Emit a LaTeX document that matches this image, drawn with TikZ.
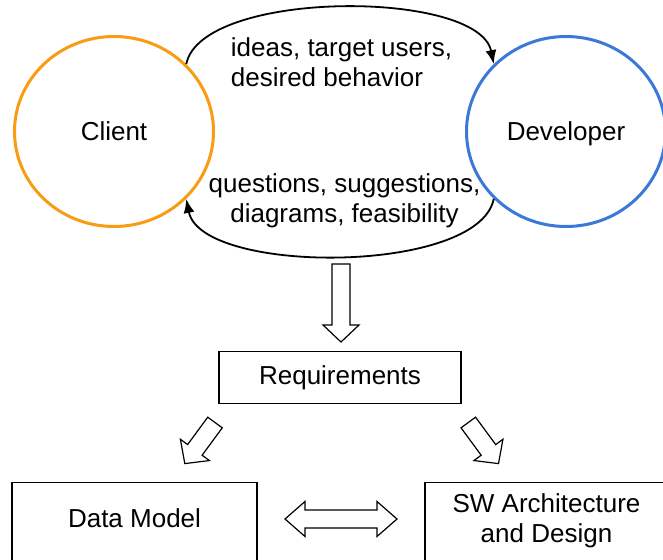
\documentclass[tikz,border=0pt]{standalone}
\usepackage{fontspec}
\setmainfont{Liberation Sans}
\usetikzlibrary{arrows.meta,shapes.geometric}

\definecolor{clientorange}{RGB}{248,156,20}
\definecolor{devblue}{RGB}{60,120,216}

\tikzset{
  party/.style={ellipse, line width=3pt, minimum width=199pt, minimum height=190pt, inner sep=0pt, text depth=0pt},
  stagebox/.style={draw, line width=1.4pt, inner sep=0pt},
  talk/.style={line width=1.8pt, -{Latex[length=14pt,width=11pt]}},
  hollow/.style={draw=black, fill=white, line width=1.2pt, line join=miter},
  pics/bigarrow/.style={code={
    \draw[hollow] (0,-9) -- (#1-17,-9) -- (#1-17,-18) -- (#1,0) -- (#1-17,18) -- (#1-17,9) -- (0,9) -- cycle;
  }},
  pics/bothways/.style={code={
    \draw[hollow] (0,0) -- (20,-17.5) -- (20,-9) -- (#1-20,-9) -- (#1-20,-17.5) -- (#1,0) -- (#1-20,17.5) -- (#1-20,9) -- (20,9) -- (20,17.5) -- cycle;
  }},
}

\begin{document}
\begin{tikzpicture}[x=1pt, y=-1pt, font=\fontsize{26}{30}\selectfont]
	\useasboundingbox (0,0) rectangle (663,559);

	% Client and developer
	\node[party, draw=clientorange] (client) at (114,131.5) {Client};
	\node[party, draw=devblue] (developer) at (566,131.5) {Developer};

	% Exchange
	\draw[talk] (client.43) .. controls +(15,-75) and +(-15,-75) .. (developer.137);
	\draw[talk] (developer.-137) .. controls +(-15,76) and +(15,76) .. (client.-43);
	\node[align=left] (wants) at (341.5,62) {ideas, target users,\\desired behavior};
	\node[align=center] (answers) at (344.5,200.5) {questions, suggestions,\\diagrams, feasibility};


	% Requirements
	\pic[rotate=-90] at (341,264) {bigarrow=78};
	\node[stagebox, minimum width=242pt, minimum height=52pt] (req) at (340,377.5) {Requirements};

	% Data model and architecture
	\pic[rotate=-126.3] at (215,422.5) {bigarrow=51};
	\pic[rotate=-53.7] at (468.3,422.5) {bigarrow=51};
	\node[stagebox, anchor=north, minimum width=245pt, text height=45pt, text depth=40pt] (model) at (134.5,482) {Data Model};
	\node[stagebox, anchor=north, minimum width=243pt, align=center, text height=59.7pt, text depth=30pt] (arch) at (546.5,482) {SW Architecture\\and Design};
	\pic at (285,519) {bothways=112};
\end{tikzpicture}
\end{document}
